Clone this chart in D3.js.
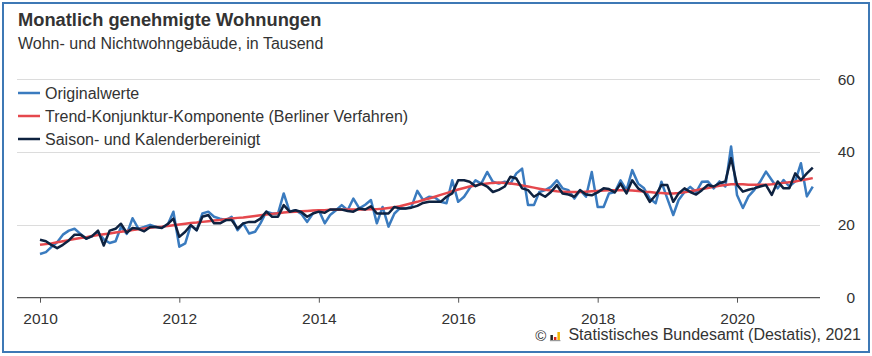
<!DOCTYPE html>
<html>
<head>
<meta charset="utf-8">
<script src="https://cdn.jsdelivr.net/npm/d3@7"></script>
<style>
  html, body { margin: 0; padding: 0; background: #fff; }
  svg { display: block; font-family: "Liberation Sans", Arial, sans-serif; }
</style>
</head>
<body>
<svg id="chart" width="872" height="356"></svg>
<script>
// ---- Data (thousand dwellings, monthly Jan 2010 – Feb 2021) ----
const startMonth = new Date(2010, 0, 1);
const endMonth = new Date(2021, 1, 1);

const originalwerte = [
  12.0, 12.5, 13.9, 15.2, 17.3, 18.4, 18.9, 17.5, 16.2, 16.9, 18.0, 16.0,
  15.0, 15.5, 19.4, 17.5, 21.8, 18.9, 19.4, 20.0, 19.4, 19.2, 20.0, 23.6,
  14.0, 14.9, 19.9, 18.5, 23.1, 23.6, 22.2, 21.7, 21.3, 22.2, 18.5, 20.4,
  17.6, 18.1, 20.4, 23.6, 23.1, 23.1, 28.6, 23.6, 24.0, 23.0, 20.8, 23.1,
  24.0, 20.4, 22.7, 24.0, 25.4, 24.0, 27.2, 24.5, 25.5, 26.8, 20.4, 24.9,
  19.5, 23.1, 24.5, 24.5, 24.9, 29.3, 26.8, 27.7, 27.5, 26.3, 25.9, 32.2,
  26.3, 27.7, 30.0, 32.2, 31.3, 34.5, 31.8, 31.3, 31.8, 31.3, 34.1, 35.4,
  25.4, 25.4, 29.0, 29.5, 30.4, 32.2, 30.0, 29.5, 27.2, 29.5, 27.7, 34.5,
  24.9, 24.9, 28.6, 29.0, 32.2, 29.5, 35.0, 31.3, 30.0, 27.2, 25.9, 31.8,
  27.2, 22.7, 26.8, 29.0, 30.4, 29.0, 31.8, 31.9, 30.0, 31.9, 30.5, 41.5,
  28.2, 24.6, 27.8, 29.6, 31.8, 34.6, 32.3, 30.0, 32.3, 30.5, 31.9, 36.9,
  27.8, 30.5
];

const trendKonjunktur = [
  14.5, 14.7, 14.9, 15.2, 15.5, 15.8, 16.1, 16.4, 16.6, 16.9, 17.2, 17.4,
  17.6, 17.9, 18.1, 18.3, 18.6, 18.8, 19.0, 19.2, 19.4, 19.5, 19.7, 19.9,
  20.1, 20.3, 20.5, 20.6, 20.8, 21.0, 21.2, 21.3, 21.5, 21.7, 21.9, 22.0,
  22.2, 22.4, 22.6, 22.8, 23.0, 23.2, 23.4, 23.5, 23.6, 23.7, 23.8, 23.9,
  24.0, 24.0, 24.1, 24.1, 24.1, 24.2, 24.2, 24.2, 24.2, 24.3, 24.3, 24.4,
  24.6, 24.8, 25.1, 25.5, 25.9, 26.3, 26.8, 27.2, 27.7, 28.2, 28.7, 29.2,
  29.7, 30.1, 30.5, 30.8, 31.1, 31.3, 31.5, 31.6, 31.5, 31.3, 31.1, 30.8,
  30.5, 30.2, 29.9, 29.6, 29.4, 29.2, 29.1, 29.0, 29.0, 29.0, 29.1, 29.2,
  29.3, 29.4, 29.5, 29.5, 29.5, 29.5, 29.4, 29.3, 29.1, 29.0, 28.8, 28.7,
  28.6, 28.6, 28.7, 28.9, 29.2, 29.5, 29.8, 30.1, 30.4, 30.7, 30.9, 31.1,
  31.1, 31.1, 31.0, 31.0, 31.0, 31.0, 31.1, 31.3, 31.5, 31.7, 31.9, 32.2,
  32.5, 32.8
];

const saisonbereinigt = [
  15.9, 15.5, 14.5, 13.6, 14.5, 15.7, 17.3, 17.3, 16.2, 16.9, 18.4, 14.3,
  18.4, 18.9, 20.3, 17.8, 19.1, 18.9, 18.2, 19.4, 19.4, 19.1, 20.2, 21.7,
  16.7, 18.1, 19.9, 18.5, 22.2, 22.7, 20.4, 20.4, 21.3, 21.3, 19.0, 20.4,
  20.8, 20.8, 21.7, 23.6, 22.2, 22.2, 25.4, 23.6, 24.0, 23.5, 22.2, 23.1,
  23.6, 23.3, 24.2, 24.2, 24.2, 23.8, 23.6, 24.5, 24.2, 25.1, 23.1, 23.1,
  23.1, 24.9, 24.5, 24.5, 24.7, 25.2, 26.0, 26.3, 26.3, 26.3, 27.7, 28.6,
  32.2, 32.2, 31.8, 30.6, 31.3, 30.5, 29.0, 29.6, 30.5, 33.2, 32.7, 30.0,
  29.5, 27.7, 28.6, 27.7, 29.0, 30.9, 28.6, 28.3, 27.7, 29.5, 28.3, 28.1,
  28.9, 30.0, 29.8, 28.9, 31.3, 28.6, 32.2, 30.0, 29.0, 26.3, 28.1, 30.9,
  30.9, 26.3, 28.6, 30.0, 29.0, 28.3, 29.5, 30.9, 30.5, 31.4, 31.9, 38.3,
  31.0, 29.1, 29.6, 30.0, 30.5, 30.9, 28.2, 31.9, 30.0, 30.0, 34.1, 32.3,
  34.1, 35.7
];

const yTicks = [0, 20, 40, 60];
const xTickYears = [2010, 2012, 2014, 2016, 2018, 2020];

const seriesNames = [
  "Originalwerte",
  "Trend-Konjunktur-Komponente (Berliner Verfahren)",
  "Saison- und Kalenderbereinigt"
];
const seriesColors = ["#3a7bbf", "#e5484d", "#0e2240"];

const titleText = "Monatlich genehmigte Wohnungen";
const subtitleText = "Wohn- und Nichtwohngebäude, in Tausend";
const sourceText = "Statistisches Bundesamt (Destatis), 2021";

// ---- Build ----
const months = d3.timeMonth.range(startMonth, d3.timeMonth.offset(endMonth, 1));
const svg = d3.select("#chart");

// frame
svg.append("rect")
  .attr("x", 3).attr("y", 3).attr("width", 866).attr("height", 349)
  .attr("fill", "none").attr("stroke", "#3d78b5").attr("stroke-width", 2);

const x = d3.scaleTime()
  .domain([new Date(2010, 0, 1), new Date(2020, 0, 1)])
  .range([40, 737]);
const y = d3.scaleLinear().domain([0, 60]).range([297.7, 79]);

const gridLeft = 17, gridRight = 820;

// gridlines
svg.append("g").selectAll("line")
  .data(yTicks.filter(d => d !== 0))
  .join("line")
  .attr("x1", gridLeft).attr("x2", gridRight)
  .attr("y1", d => Math.round(y(d)) + 0.5).attr("y2", d => Math.round(y(d)) + 0.5)
  .attr("stroke", "#dcdcdc").attr("stroke-width", 1);

// y labels (right)
svg.append("g").selectAll("text")
  .data(yTicks)
  .join("text")
  .attr("x", 855).attr("y", d => y(d)).attr("dy", "0.36em")
  .attr("text-anchor", "end")
  .attr("font-size", 15.5).attr("fill", "#333")
  .text(d => d);

// x axis
const xAxis = d3.axisBottom(x)
  .tickValues(xTickYears.map(yr => new Date(yr, 0, 1)))
  .tickFormat(d3.timeFormat("%Y"))
  .tickSize(5).tickPadding(10);
const gx = svg.append("g").attr("transform", "translate(0,297.7)").call(xAxis);
gx.select(".domain").remove();
gx.selectAll(".tick line").attr("stroke", "#555");
gx.selectAll(".tick text").attr("font-size", 15.5).attr("fill", "#333")
  .attr("font-family", "Liberation Sans, Arial, sans-serif");

// baseline
svg.append("line")
  .attr("x1", gridLeft).attr("x2", gridRight)
  .attr("y1", y(0)).attr("y2", y(0))
  .attr("stroke", "#555").attr("stroke-width", 1.2);

// lines
const allSeries = [originalwerte, trendKonjunktur, saisonbereinigt];
const line = d3.line()
  .x((d, i) => x(months[i]))
  .y(d => y(d));

svg.append("g").selectAll("path")
  .data(allSeries)
  .join("path")
  .attr("d", d => line(d))
  .attr("fill", "none")
  .attr("stroke", (d, i) => seriesColors[i])
  .attr("stroke-width", 2.5)
  .attr("stroke-linejoin", "round");

// title
svg.append("text").attr("x", 18).attr("y", 26)
  .attr("font-size", 18.3).attr("font-weight", "bold").attr("fill", "#333")
  .text(titleText);
svg.append("text").attr("x", 18).attr("y", 49)
  .attr("font-size", 16).attr("fill", "#333")
  .text(subtitleText);

// legend
const legend = svg.append("g");
const legY = [93, 116, 139];
seriesNames.forEach((name, i) => {
  legend.append("line")
    .attr("x1", 18).attr("x2", 40)
    .attr("y1", legY[i]).attr("y2", legY[i])
    .attr("stroke", seriesColors[i]).attr("stroke-width", 2.5);
  legend.append("text")
    .attr("x", 45).attr("y", legY[i]).attr("dy", "0.36em")
    .attr("font-size", 16).attr("fill", "#333")
    .text(name);
});

// source
const src = svg.append("text").attr("x", 861).attr("y", 340)
  .attr("text-anchor", "end").attr("font-size", 16).attr("fill", "#333")
  .text(sourceText);
const srcW = src.node().getComputedTextLength();
const srcLeft = 861 - srcW;
const icon = svg.append("g").attr("transform", `translate(${srcLeft - 18},0)`);
icon.append("rect").attr("x", 0).attr("y", 335).attr("width", 2.5).attr("height", 5).attr("fill", "#222");
icon.append("rect").attr("x", 3.5).attr("y", 337).attr("width", 2.5).attr("height", 3).attr("fill", "#d9261c");
icon.append("rect").attr("x", 7).attr("y", 332).attr("width", 2.5).attr("height", 8).attr("fill", "#f0b400");
icon.append("rect").attr("x", -0.5).attr("y", 340).attr("width", 10.5).attr("height", 1.2).attr("fill", "#999");
svg.append("text").attr("x", srcLeft - 22).attr("y", 341)
  .attr("text-anchor", "end").attr("font-size", 15).attr("fill", "#333")
  .text("©");
</script>
</body>
</html>
